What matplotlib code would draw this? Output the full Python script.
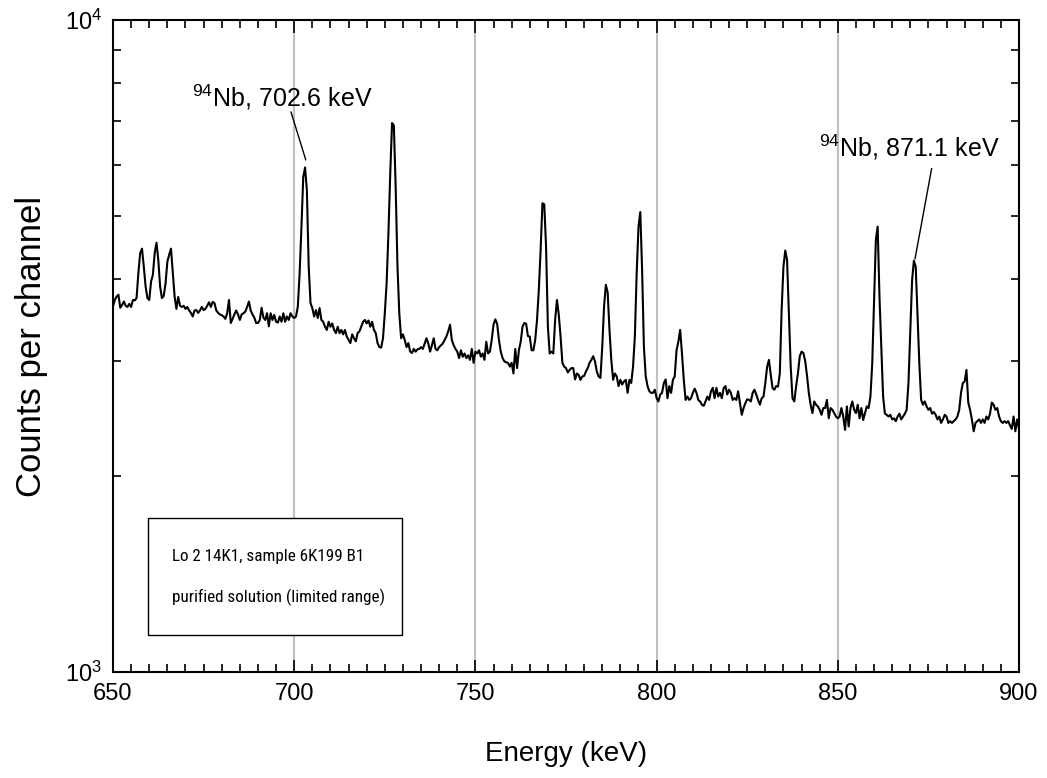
import numpy as np
import matplotlib
matplotlib.use("Agg")
import matplotlib.pyplot as plt
from matplotlib.patches import Rectangle
from matplotlib.ticker import MultipleLocator, LogLocator, NullFormatter
from matplotlib import font_manager
from matplotlib.font_manager import FontProperties

plt.rcParams['font.family'] = ['Liberation Sans', 'DejaVu Sans']
plt.rcParams['mathtext.fontset'] = 'custom'
plt.rcParams['mathtext.rm'] = 'Liberation Sans'

# Spectrum: channel energies start at E0 with step dE (keV)
E0 = 650.0
dE = 0.5
counts = [
    3635, 3720, 3765, 3790, 3620, 3655, 3700, 3645, 3630, 3670,   # 650
    3630, 3720, 3715, 3745, 4090, 4390, 4460, 4185, 3900, 3745,   # 655
    3720, 3970, 4065, 4390, 4555, 4285, 3900, 3745, 3775, 3945,   # 660
    4260, 4365, 4460, 4090, 3765, 3605, 3760, 3645, 3630, 3645,   # 665
    3605, 3630, 3585, 3555, 3510, 3585, 3590, 3555, 3585, 3630,   # 670
    3590, 3605, 3645, 3690, 3630, 3695, 3680, 3585, 3555, 3535,   # 675
    3525, 3510, 3480, 3550, 3720, 3430, 3480, 3535, 3585, 3535,   # 680
    3467, 3535, 3550, 3570, 3630, 3700, 3585, 3535, 3495, 3430,   # 685
    3430, 3467, 3620, 3495, 3467, 3550, 3390, 3550, 3467, 3530,   # 690
    3445, 3435, 3510, 3445, 3550, 3445, 3510, 3467, 3550, 3510,   # 695
    3490, 3510, 3635, 4090, 4820, 5745, 5940, 5475, 4185, 3680,   # 700
    3615, 3510, 3590, 3490, 3615, 3467, 3445, 3385, 3347, 3445,   # 705
    3385, 3425, 3347, 3310, 3385, 3310, 3347, 3295, 3347, 3270,   # 710
    3231, 3195, 3295, 3250, 3215, 3310, 3330, 3385, 3445, 3467,   # 715
    3425, 3460, 3385, 3445, 3347, 3310, 3195, 3150, 3145, 3250,   # 720
    3550, 3945, 4710, 5810, 6950, 6890, 5540, 4185, 3550, 3250,   # 725
    3295, 3231, 3150, 3195, 3100, 3085, 3130, 3100, 3125, 3130,   # 730
    3150, 3130, 3190, 3250, 3190, 3100, 3170, 3250, 3130, 3115,   # 735
    3150, 3170, 3190, 3230, 3270, 3330, 3410, 3230, 3170, 3130,   # 740
    3100, 3030, 3115, 3045, 3080, 3030, 3060, 3011, 3130, 2980,   # 745
    3100, 3080, 3115, 3045, 3080, 3011, 3210, 3080, 3100, 3230,   # 750
    3410, 3475, 3420, 3230, 3100, 3030, 2995, 2985, 2980, 2940,   # 755
    2980, 2870, 3130, 2925, 3115, 3210, 3385, 3430, 3420, 3275,   # 760
    3270, 3115, 3115, 3230, 3467, 3855, 4440, 5235, 5215, 4490,   # 765
    3385, 3080, 3100, 3080, 3467, 3720, 3535, 3270, 2980, 2940,   # 770
    2925, 2880, 2906, 2925, 2925, 2810, 2870, 2855, 2806, 2840,   # 775
    2845, 2890, 2925, 2980, 3011, 3050, 2995, 2890, 2840, 2825,   # 780
    3150, 3635, 3925, 3820, 3347, 3011, 2806, 2870, 2840, 2745,   # 785
    2806, 2760, 2790, 2806, 2680, 2806, 2775, 2940, 3270, 4085,   # 790
    4820, 5075, 4137, 3150, 2840, 2745, 2695, 2680, 2680, 2710,   # 795
    2630, 2600, 2665, 2680, 2775, 2810, 2630, 2745, 2680, 2806,   # 800
    2840, 3115, 3210, 3347, 3080, 2806, 2614, 2645, 2614, 2630,   # 805
    2680, 2720, 2680, 2614, 2600, 2570, 2560, 2600, 2645, 2614,   # 810
    2695, 2728, 2630, 2728, 2645, 2680, 2630, 2725, 2745, 2665,   # 815
    2710, 2680, 2614, 2630, 2614, 2695, 2585, 2480, 2540, 2585,   # 820
    2620, 2614, 2600, 2680, 2710, 2665, 2614, 2570, 2630, 2645,   # 825
    2775, 2940, 3011, 2855, 2725, 2710, 2745, 2740, 2870, 3592,   # 830
    4185, 4430, 4285, 3550, 2940, 2630, 2600, 2745, 2870, 3050,   # 835
    3100, 3085, 3000, 2850, 2680, 2570, 2495, 2600, 2570, 2555,   # 840
    2525, 2480, 2540, 2540, 2614, 2450, 2540, 2525, 2495, 2465,   # 845
    2450, 2465, 2540, 2465, 2352, 2555, 2380, 2540, 2600, 2525,   # 850
    2495, 2570, 2450, 2540, 2435, 2495, 2555, 2540, 2645, 2970,   # 855
    3675, 4600, 4820, 3765, 3150, 2645, 2490, 2480, 2465, 2480,   # 860
    2440, 2450, 2425, 2465, 2490, 2440, 2465, 2490, 2524, 2775,   # 865
    3347, 3993, 4275, 4185, 3520, 2970, 2614, 2570, 2600, 2555,   # 870
    2524, 2540, 2490, 2505, 2480, 2440, 2465, 2410, 2440, 2480,   # 875
    2465, 2410, 2425, 2410, 2425, 2440, 2465, 2524, 2680, 2775,   # 880
    2790, 2906, 2590, 2524, 2440, 2340, 2410, 2425, 2440, 2410,   # 885
    2440, 2410, 2465, 2440, 2490, 2590, 2570, 2524, 2540, 2465,   # 890
    2425, 2410, 2425, 2410, 2425, 2390, 2360, 2465, 2340, 2440,   # 895
    2360,                                                         # 900
]
energy = E0 + dE * np.arange(len(counts))

x_range = [650, 900]
y_range = [1e3, 1e4]
grid_x = [700, 750, 800, 850]

label1_text = r"$^{94}$Nb, 702.6 keV"
label1_point = (703.2, 6100)
label1_line_start = (699.1, 7230)
label1_xy = (696.8, 7356)
label2_text = r"$^{94}$Nb, 871.1 keV"
label2_point = (871.3, 4300)
label2_line_start = (875.9, 5920)
label2_xy = (869.8, 6165)
box_lines = ["Lo 2 14K1, sample 6K199 B1", "purified solution (limited range)"]


def narrow_font():
    """Find an installed condensed/narrow sans font file, if any."""
    prefs = ['Liberation Sans Narrow', 'Roboto Condensed', 'Open Sans Condensed',
             'Noto Sans', 'DejaVu Sans', 'Roboto', 'Open Sans', 'Inter']
    found = []
    for f in font_manager.fontManager.ttflist:
        st = str(f.stretch).lower()
        fn = f.fname.lower()
        is_narrow = ('narrow' in f.name.lower() or 'condensed' in f.name.lower()
                     or st in ('condensed', 'semi-condensed', 'extra-condensed')
                     or 'condensed' in fn or 'narrow' in fn)
        if not is_narrow:
            continue
        if f.weight not in (400, 'normal', 'regular') or f.style != 'normal':
            continue
        if 'semicondensed' in fn.replace('-', '') or 'extracondensed' in fn.replace('-', ''):
            continue
        for rank, p in enumerate(prefs):
            if f.name.startswith(p):
                found.append((rank, f.fname))
                break
    if found:
        found.sort()
        return FontProperties(fname=found[0][1])
    return FontProperties(family=['Liberation Sans', 'DejaVu Sans'])


fig = plt.figure(figsize=(10.47, 7.78), dpi=100)
ax = fig.add_axes([113/1047, 1 - 672/778, (1019-113)/1047, (672-20)/778])

for gx in grid_x:
    ax.axvline(gx, color='#c0c0c0', lw=1.5, zorder=1)

ax.plot(energy, counts, color='black', lw=1.5, zorder=3)
ax.set_yscale('log')
ax.set_xlim(*x_range)
ax.set_ylim(*y_range)

ax.xaxis.set_major_locator(MultipleLocator(50))
ax.xaxis.set_minor_locator(MultipleLocator(5))
ax.yaxis.set_major_locator(LogLocator(base=10))
ax.yaxis.set_minor_locator(LogLocator(base=10, subs=np.arange(2, 10)))
ax.yaxis.set_minor_formatter(NullFormatter())

ax.tick_params(which='both', direction='in', top=True, right=True, width=1.2)
ax.tick_params(which='major', length=9, labelsize=17, pad=8)
ax.tick_params(which='minor', length=6)
for s in ax.spines.values():
    s.set_linewidth(1.5)

ax.set_xlabel("Energy (keV)", fontsize=20, labelpad=26)
ax.set_ylabel("Counts per channel", fontsize=25, labelpad=12)

for txt, pt, start, xy in [(label1_text, label1_point, label1_line_start, label1_xy),
                           (label2_text, label2_point, label2_line_start, label2_xy)]:
    ax.annotate('', xy=pt, xytext=start,
                arrowprops=dict(arrowstyle='-', color='black', lw=1.0,
                                shrinkA=0, shrinkB=0))
    ax.text(xy[0], xy[1], txt, fontsize=18, ha='center', va='baseline')

# annotation box (axes fraction)
ax.add_patch(Rectangle((0.0386, 0.0567), 0.2804, 0.1795, transform=ax.transAxes,
                       facecolor='white', edgecolor='black', lw=1.0, zorder=4))
fp = narrow_font()
fp.set_size(14)
line_y = [0.1779, 0.1150]
texts = [ax.text(0.0651, yy, s, transform=ax.transAxes, fontproperties=fp,
                 ha='left', va='center', zorder=5)
         for s, yy in zip(box_lines, line_y)]
# fit the longest line to the width it has in the reference (~214 px)
fig.canvas.draw()
w = max(t.get_window_extent().width for t in texts)
new_size = 14 * 214.0 / w
for t in texts:
    t.set_fontsize(new_size)

fig.savefig("out.png", dpi=100)
